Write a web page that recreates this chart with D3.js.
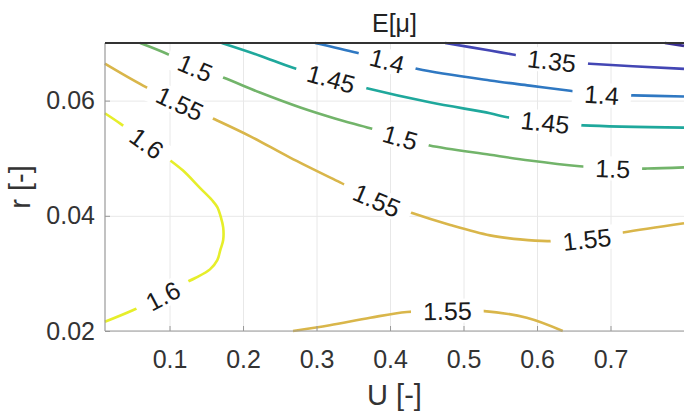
<!DOCTYPE html>
<html>
<head>
<meta charset="utf-8">
<script src="https://cdn.jsdelivr.net/npm/d3@7"></script>
<style>
  body { margin: 0; background: #fff; }
  svg { display: block; }
  text { font-family: "Liberation Sans", Arial, sans-serif; }
</style>
</head>
<body>
<div id="chart"></div>
<script>
// contour lines, [U, r] pairs
var line130 = [[0.774, 0.0700], [0.800, 0.0695]];
var line135 = [[0.475, 0.0700], [0.536, 0.0687], [0.567, 0.0680], [0.620, 0.0669], [0.672, 0.0664], [0.800, 0.0655]];
var line140 = [[0.298, 0.0700], [0.355, 0.0683], [0.396, 0.0669], [0.438, 0.0655], [0.536, 0.0635], [0.590, 0.0626],
  [0.645, 0.0617], [0.688, 0.0610], [0.731, 0.0609], [0.800, 0.0607]];
var line145 = [[0.171, 0.0700], [0.223, 0.0678], [0.268, 0.0657], [0.320, 0.0638], [0.370, 0.0621], [0.454, 0.0597],
  [0.536, 0.0578], [0.556, 0.0572], [0.611, 0.0562], [0.663, 0.0557], [0.800, 0.0553]];
var line150 = [[0.060, 0.0700], [0.097, 0.0681], [0.135, 0.0657], [0.173, 0.0640], [0.223, 0.0614], [0.278, 0.0588],
  [0.325, 0.0569], [0.373, 0.0552], [0.414, 0.0536], [0.454, 0.0522], [0.536, 0.0506], [0.590, 0.0496],
  [0.658, 0.0486], [0.703, 0.0482], [0.750, 0.0482], [0.800, 0.0484]];
var line155a = [[0.012, 0.0664], [0.064, 0.0626], [0.114, 0.0595], [0.159, 0.0569], [0.210, 0.0538], [0.264, 0.0501],
  [0.332, 0.0458], [0.382, 0.0427], [0.427, 0.0406], [0.482, 0.0384], [0.536, 0.0366], [0.577, 0.0359],
  [0.614, 0.0356], [0.668, 0.0359], [0.717, 0.0371], [0.800, 0.0387]];
var line155b = [[0.268, 0.0200], [0.318, 0.0210], [0.373, 0.0223], [0.423, 0.0233], [0.478, 0.0235], [0.525, 0.0235],
  [0.586, 0.0223], [0.635, 0.0200]];
var line160 = [[0.012, 0.0578], [0.033, 0.0560], [0.069, 0.0526], [0.097, 0.0500], [0.118, 0.0479], [0.141, 0.0449],
  [0.158, 0.0427], [0.165, 0.0415], [0.170, 0.0397], [0.173, 0.0380], [0.173, 0.0358], [0.169, 0.0340],
  [0.165, 0.0323], [0.155, 0.0307], [0.135, 0.0292], [0.112, 0.0278], [0.091, 0.0261], [0.050, 0.0236],
  [0.012, 0.0216]];

var levels = [1.3, 1.35, 1.4, 1.45, 1.5, 1.55, 1.6];
var levelColors = ["#3b2f94", "#4346b4", "#2f78c2", "#1fa89c", "#72b46a", "#d9b64a", "#e6ee2a"];

// label spots [level, U, r]
var labelSpots = [
  [1.35, 0.620, 0.0669],
  [1.4, 0.396, 0.0669], [1.4, 0.688, 0.0610],
  [1.45, 0.320, 0.0638], [1.45, 0.611, 0.0562],
  [1.5, 0.135, 0.0657], [1.5, 0.414, 0.0536], [1.5, 0.703, 0.0482],
  [1.55, 0.114, 0.0595], [1.55, 0.382, 0.0427], [1.55, 0.668, 0.0359], [1.55, 0.478, 0.0235],
  [1.6, 0.069, 0.0526], [1.6, 0.091, 0.0261]
];

var xTicks = [0.1, 0.2, 0.3, 0.4, 0.5, 0.6, 0.7];
var yTicks = [0.02, 0.04, 0.06];

var contourLines = [
  { level: 1.3, pts: line130 },
  { level: 1.35, pts: line135 },
  { level: 1.4, pts: line140 },
  { level: 1.45, pts: line145 },
  { level: 1.5, pts: line150 },
  { level: 1.55, pts: line155a },
  { level: 1.55, pts: line155b },
  { level: 1.6, pts: line160 }
];

var width = 686, height = 420;
var mLeft = 105, mRight = 684, mTop = 43, mBottom = 331;

var x = d3.scaleLinear().domain([0.0122, 0.8]).range([mLeft, mRight]);
var y = d3.scaleLinear().domain([0.02, 0.07]).range([mBottom, mTop]);
var color = d3.scaleOrdinal().domain(levels).range(levelColors);

var svg = d3.select("#chart").append("svg")
  .attr("width", width)
  .attr("height", height);

// grid
svg.append("g")
  .attr("transform", "translate(0," + mBottom + ")")
  .call(d3.axisBottom(x).tickValues(xTicks).tickSize(-(mBottom - mTop)).tickFormat(""))
  .call(function (g) { g.select(".domain").remove(); })
  .selectAll("line").attr("stroke", "#e8e8e8");
svg.append("g")
  .attr("transform", "translate(" + mLeft + ",0)")
  .call(d3.axisLeft(y).tickValues(yTicks).tickSize(-(mRight - mLeft)).tickFormat(""))
  .call(function (g) { g.select(".domain").remove(); })
  .selectAll("line").attr("stroke", "#e8e8e8");

// contour lines
var line = d3.line()
  .x(function (d) { return x(d[0]); })
  .y(function (d) { return y(d[1]); })
  .curve(d3.curveCatmullRom);

svg.append("g").selectAll("path")
  .data(contourLines)
  .enter()
  .append("path")
  .attr("d", function (d) { return line(d.pts); })
  .attr("fill", "none")
  .attr("stroke", function (d) { return color(d.level); })
  .attr("stroke-width", 2.6)
  .attr("stroke-linecap", "butt");

// labels, turned along the line
function labelAngle(s) {
  var best = null, bestD = Infinity;
  contourLines.forEach(function (c) {
    if (c.level !== s[0]) return;
    c.pts.forEach(function (p, i) {
      var dd = Math.abs(x(p[0]) - x(s[1])) + Math.abs(y(p[1]) - y(s[2]));
      if (dd < bestD) { bestD = dd; best = { pts: c.pts, i: i }; }
    });
  });
  var a = best.pts[Math.max(0, best.i - 1)];
  var b = best.pts[Math.min(best.pts.length - 1, best.i + 1)];
  var ang = Math.atan2(y(b[1]) - y(a[1]), x(b[0]) - x(a[0])) * 180 / Math.PI;
  if (ang > 90) ang -= 180;
  if (ang < -90) ang += 180;
  return ang;
}

var labels = svg.append("g").selectAll("g")
  .data(labelSpots)
  .enter()
  .append("g")
  .attr("transform", function (d) {
    return "translate(" + x(d[1]) + "," + y(d[2]) + ") rotate(" + labelAngle(d) + ")";
  });
labels.append("rect").attr("fill", "#fff");
labels.append("text")
  .attr("text-anchor", "middle")
  .attr("dy", "0.36em")
  .attr("font-size", 25)
  .attr("fill", "#1a1a1a")
  .text(function (d) { return d[0]; });
labels.each(function () {
  var g = d3.select(this);
  var bb = g.select("text").node().getBBox();
  g.select("rect")
    .attr("x", bb.x - 12).attr("y", bb.y + 2)
    .attr("width", bb.width + 24).attr("height", bb.height - 4);
});

// axes
var xAxis = svg.append("g")
  .attr("transform", "translate(0," + mBottom + ")")
  .call(d3.axisBottom(x).tickValues(xTicks).tickSize(-5).tickPadding(19).tickFormat(d3.format("")));
var yAxis = svg.append("g")
  .attr("transform", "translate(" + mLeft + ",0)")
  .call(d3.axisLeft(y).tickValues(yTicks).tickSize(-5).tickPadding(10).tickFormat(d3.format(".2f")));
[xAxis, yAxis].forEach(function (g) {
  g.select(".domain").remove();
  g.selectAll("line").attr("stroke", "#999");
  g.selectAll("text")
    .attr("font-size", 25)
    .attr("fill", "#333")
    .style("font-family", "'Liberation Sans', Arial, sans-serif");
});

svg.append("line")
  .attr("x1", mLeft).attr("x2", mLeft).attr("y1", mTop).attr("y2", mBottom)
  .attr("stroke", "#999").attr("stroke-width", 1.2);
svg.append("line")
  .attr("x1", mLeft).attr("x2", mRight).attr("y1", mBottom).attr("y2", mBottom)
  .attr("stroke", "#999").attr("stroke-width", 1.2);
svg.append("line")
  .attr("x1", mLeft).attr("x2", mRight).attr("y1", mTop).attr("y2", mTop)
  .attr("stroke", "#333").attr("stroke-width", 2);

// title and axis labels
svg.append("text")
  .attr("x", (mLeft + mRight) / 2).attr("y", 32)
  .attr("text-anchor", "middle")
  .attr("font-size", 25)
  .attr("fill", "#222")
  .text("E[μ]");
svg.append("text")
  .attr("x", (mLeft + mRight) / 2).attr("y", 405)
  .attr("text-anchor", "middle")
  .attr("font-size", 29)
  .attr("fill", "#333")
  .text("U [-]");
svg.append("text")
  .attr("transform", "translate(30," + (mTop + mBottom) / 2 + ") rotate(-90)")
  .attr("text-anchor", "middle")
  .attr("font-size", 29)
  .attr("fill", "#333")
  .text("r [-]");
</script>
</body>
</html>
